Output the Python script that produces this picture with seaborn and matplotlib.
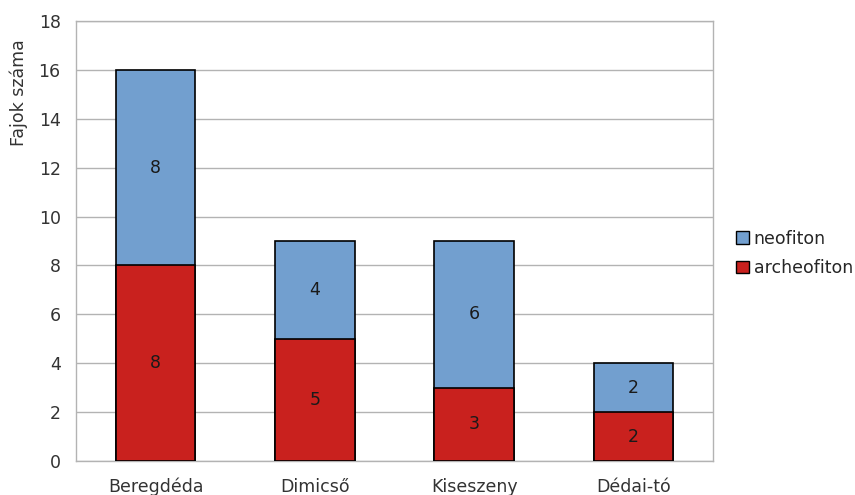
import seaborn as sns
import pandas as pd
import numpy as np
import matplotlib
matplotlib.use("Agg")
import matplotlib.pyplot as plt
from matplotlib.patches import Patch

helyek = ["Beregdéda", "Dimicső", "Kiseszeny", "Dédai-tó"]
archeofiton = [8, 5, 3, 2]
neofiton = [8, 4, 6, 2]
y_ticks = [0, 2, 4, 6, 8, 10, 12, 14, 16, 18]

kek = "#729fcf"
piros = "#c9211e"
racs = "#b3b3b3"
betu = "#333333"
fs = 12.5

df = pd.DataFrame({"hely": helyek, "archeofiton": archeofiton, "neofiton": neofiton})
df["osszes"] = df["archeofiton"] + df["neofiton"]

sns.set_style("white")
plt.rcParams["font.family"] = ["DejaVu Sans"]

fig = plt.figure(figsize=(8.55, 4.95), dpi=100)
ax = fig.add_axes([0.0889, 0.0687, 0.745, 0.889])

sns.barplot(data=df, x="hely", y="osszes", color=kek, width=0.5,
            edgecolor="black", linewidth=1.2, saturation=1, ax=ax, zorder=3)
n_top = len(ax.patches)
sns.barplot(data=df, x="hely", y="archeofiton", color=piros, width=0.5,
            edgecolor="black", linewidth=1.2, saturation=1, ax=ax, zorder=3)

# feliratok: kek resz = neofiton, piros resz = archeofiton
for i, p in enumerate(ax.patches[:n_top]):
    ax.text(p.get_x() + p.get_width() / 2,
            df["archeofiton"].iloc[i] + df["neofiton"].iloc[i] / 2,
            str(df["neofiton"].iloc[i]), ha="center", va="center",
            fontsize=fs, color="#1a1a1a", zorder=5)
for i, p in enumerate(ax.patches[n_top:]):
    ax.text(p.get_x() + p.get_width() / 2, p.get_height() / 2,
            str(df["archeofiton"].iloc[i]), ha="center", va="center",
            fontsize=fs, color="#1a1a1a", zorder=5)

ax.set_ylim(0, 18)
ax.set_xlim(-0.5, len(helyek) - 0.5)
ax.set_yticks(y_ticks)
ax.yaxis.grid(True, color=racs, linewidth=1, zorder=0)
ax.set_axisbelow(True)

ax.set_xticks(range(len(helyek)))
ax.set_xticklabels(helyek, fontsize=fs, color=betu)
ax.set_xticks(np.arange(-0.5, len(helyek)), minor=True)
ax.tick_params(axis="x", which="major", length=0, pad=12)
ax.tick_params(axis="x", which="minor", length=7, color=racs, width=1, direction="out")
ax.tick_params(axis="y", length=7, color=racs, width=1, direction="out",
               labelsize=fs, labelcolor=betu, pad=4)

ax.set_xlabel("")
ax.set_ylabel("Fajok száma", fontsize=fs, color=betu)
ax.yaxis.set_label_coords(-0.076, 0.836)

for s in ["left", "right", "bottom", "top"]:
    ax.spines[s].set_visible(True)
    ax.spines[s].set_color(racs)
    ax.spines[s].set_linewidth(1)

handles = [Patch(facecolor=kek, edgecolor="black", label="neofiton"),
           Patch(facecolor=piros, edgecolor="black", label="archeofiton")]
fig.legend(handles=handles, loc="center left", bbox_to_anchor=(0.853, 0.488),
           frameon=False, fontsize=fs, handlelength=0.75, handleheight=0.75,
           handletextpad=0.25, labelspacing=0.65, borderaxespad=0)

fig.savefig("out.png", dpi=100)
